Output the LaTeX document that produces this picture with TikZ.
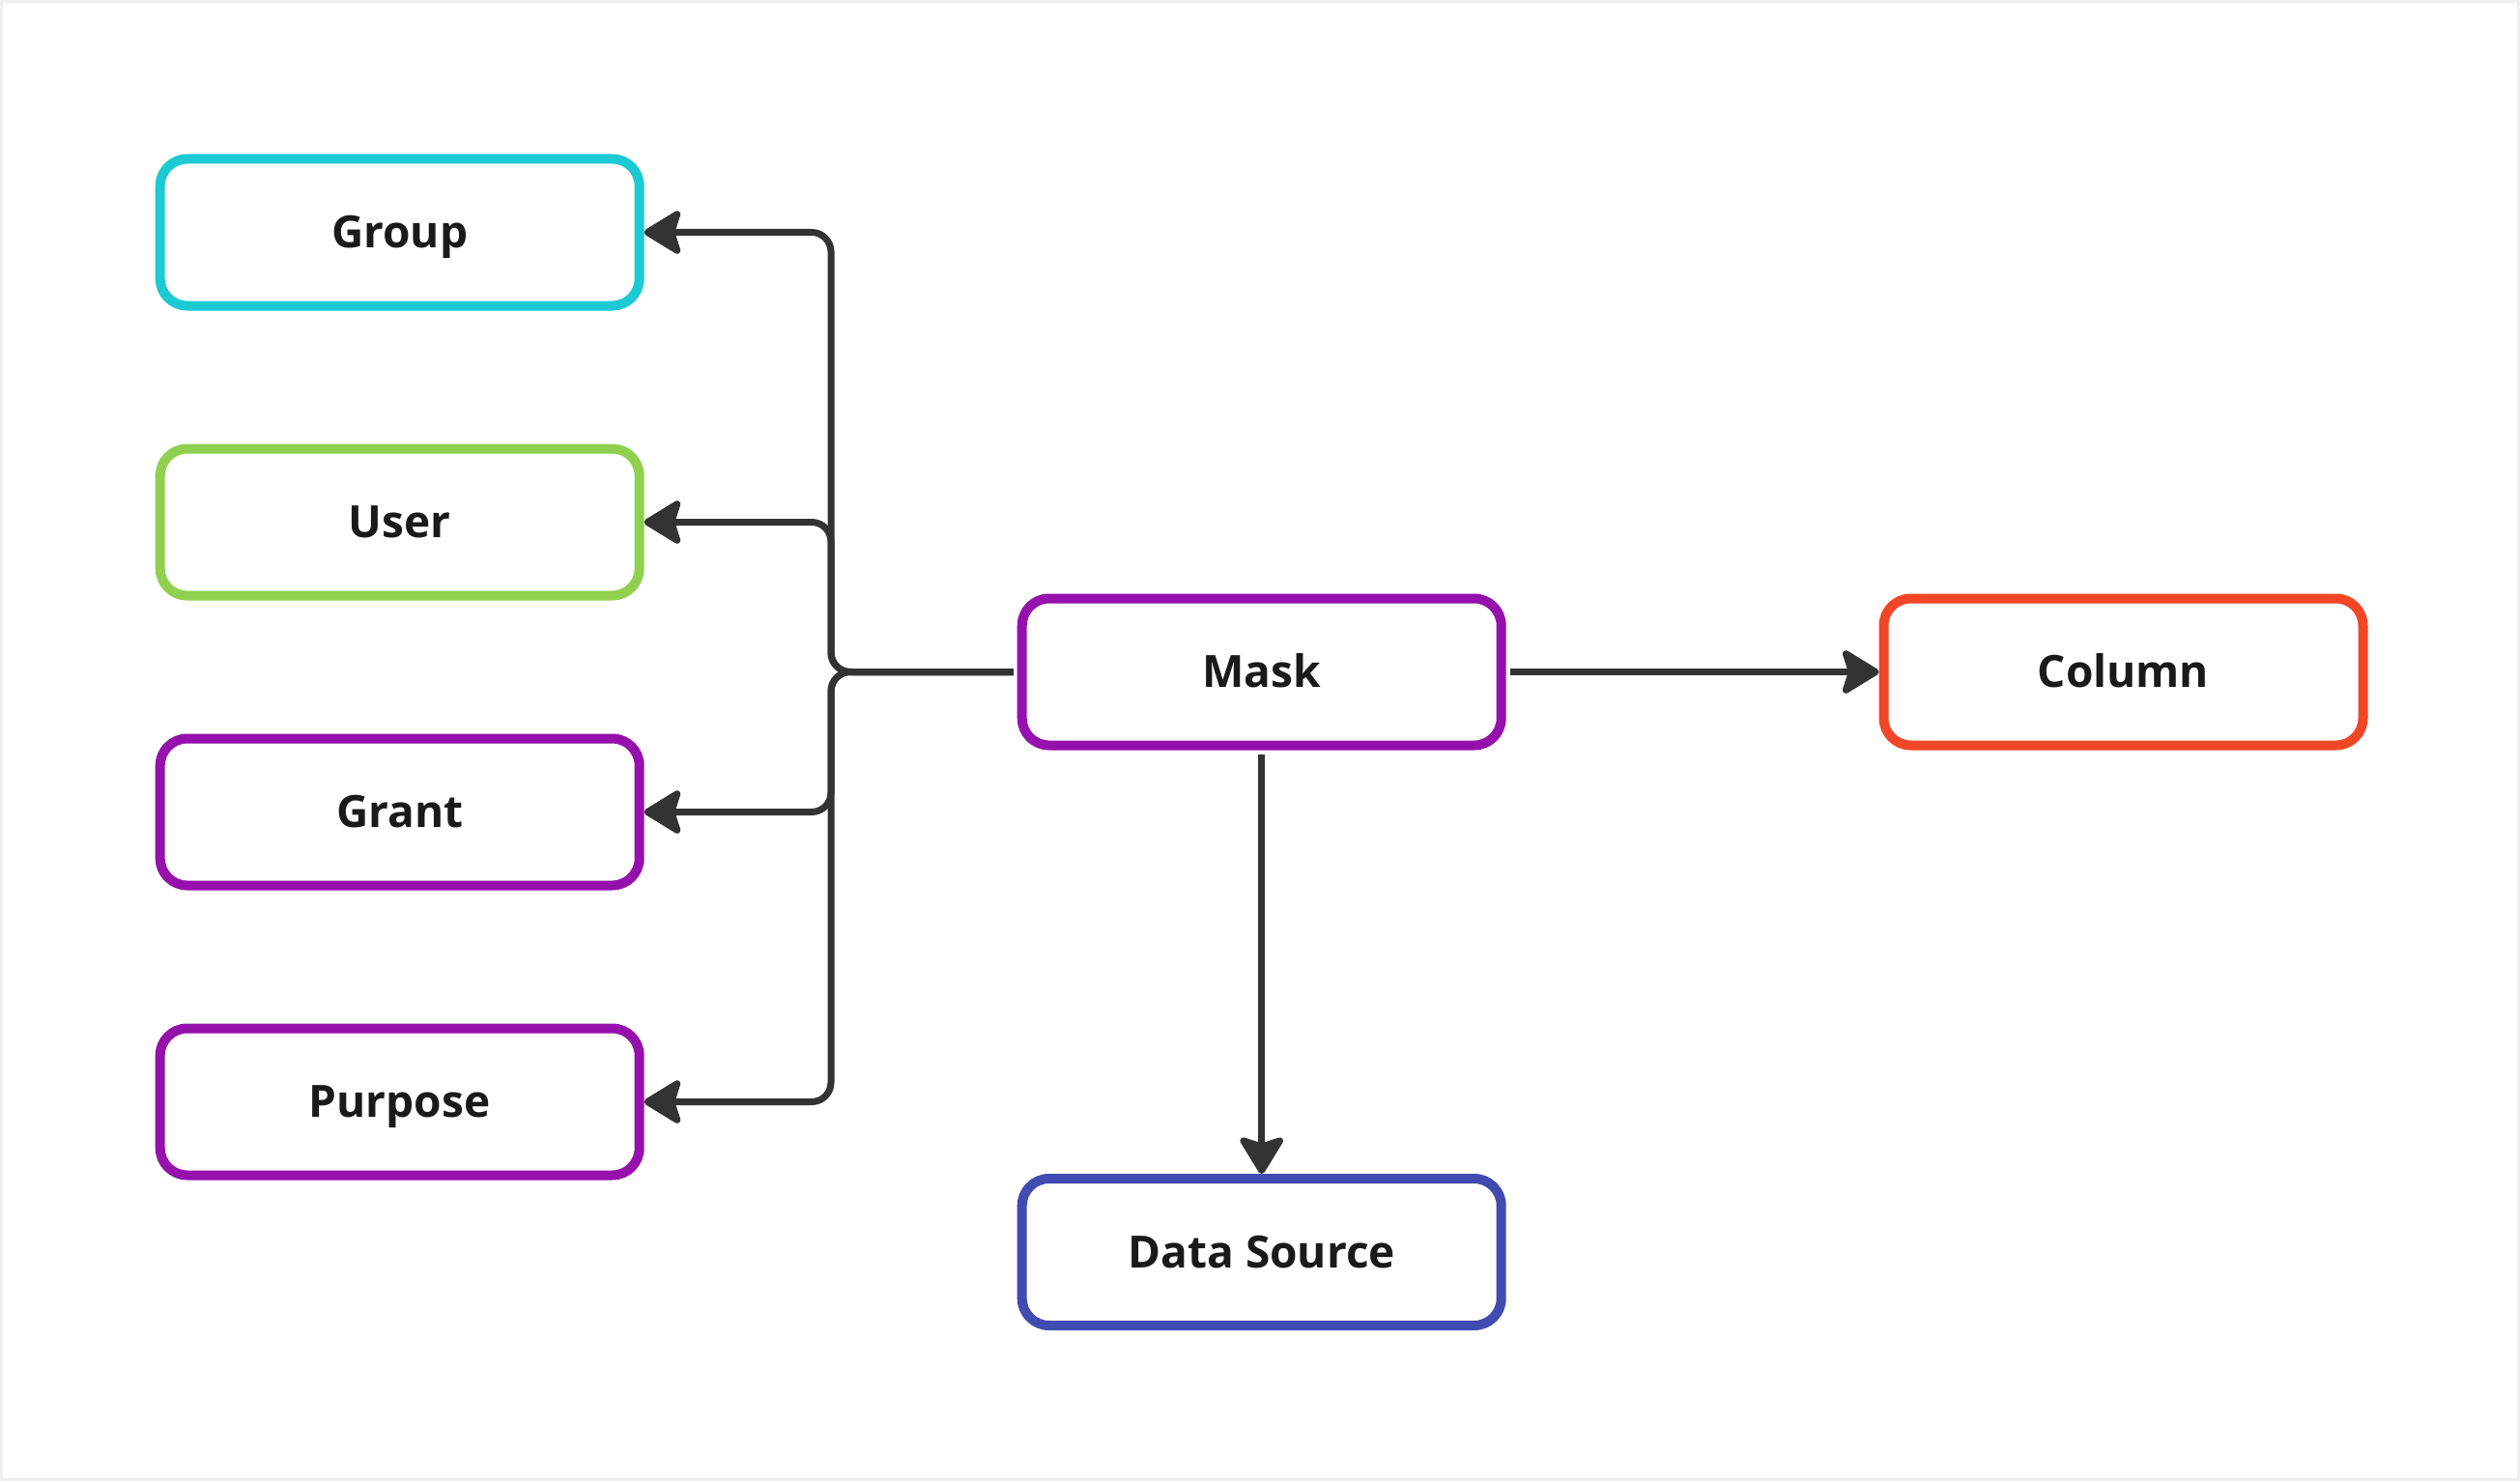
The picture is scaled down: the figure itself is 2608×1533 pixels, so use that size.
\documentclass[tikz,border=0pt]{standalone}
\usepackage{fontspec}
\setmainfont{Open Sans}
\usetikzlibrary{arrows.meta}
\definecolor{cgroup}{HTML}{1BCAD3}
\definecolor{cuser}{HTML}{8FD14F}
\definecolor{cpurple}{HTML}{9510AC}
\definecolor{ccolumn}{HTML}{F24726}
\definecolor{cds}{HTML}{414BB2}
\definecolor{txt}{HTML}{1A1A1A}
\definecolor{lin}{HTML}{333333}
\definecolor{frame}{HTML}{EFEFEF}
\begin{document}
\begin{tikzpicture}[x=1pt,y=-1pt,
  box/.style={draw, line width=10pt, rounded corners=28pt, minimum width=496pt, minimum height=152pt,
    inner sep=0pt, fill=white, text=txt, font=\fontsize{46}{54}\selectfont\bfseries,
    text height=32.8pt, text depth=0pt},
  conn/.style={draw=lin, line width=7pt, rounded corners=20pt,
    -{Stealth[length=43pt,width=52pt,inset=8pt,round]}, shorten <=4pt}]
\useasboundingbox (0,0) rectangle (2608,1533);
\fill[white] (0,0) rectangle (2608,1533);
\draw[frame, line width=3pt] (1.5,1.5) rectangle (2606.5,1531.5);

\node[box, draw=cgroup]  (group)   at (413.7,240.5)  {Group};
\node[box, draw=cuser]   (user)    at (413.7,540.5)  {User};
\node[box, draw=cpurple] (grant)   at (413.7,840.5)  {Grant};
\node[box, draw=cpurple] (purpose) at (413.7,1140.5) {Purpose};
\node[box, draw=cpurple] (mask)    at (1305.7,695.5) {Mask};
\node[box, draw=ccolumn] (column)  at (2197.5,695.5) {Column};
\node[box, draw=cds]     (ds)      at (1305.7,1296)  {Data Source};

\coordinate (trunk) at (860,695.5);

\draw[conn] (mask.west) -- (trunk) |- (group.east);
\draw[conn] (mask.west) -- (trunk) |- (user.east);
\draw[conn] (mask.west) -- (trunk) |- (grant.east);
\draw[conn] (mask.west) -- (trunk) |- (purpose.east);
\draw[conn] (mask.east) -- (column.west);
\draw[conn] (mask.south) -- (ds.north);
\end{tikzpicture}
\end{document}
